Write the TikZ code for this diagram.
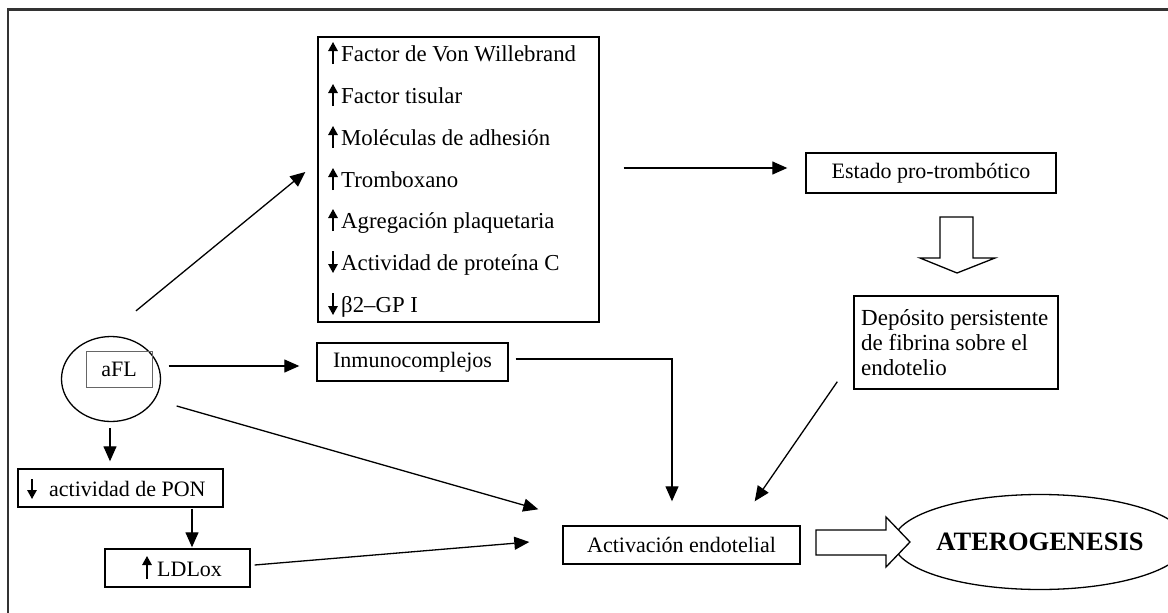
\documentclass[tikz,border=0pt]{standalone}
\usepackage{fontspec}
\setmainfont{Liberation Serif}
\usetikzlibrary{arrows.meta,calc,shapes.geometric}
\begin{document}
\begin{tikzpicture}[x=1pt,y=-1pt,
  every node/.style={font=\fontsize{22}{25}\selectfont},
  box/.style={draw, line width=1.4pt, inner sep=0pt, rectangle},
  arr/.style={line width=1.3pt, -{Triangle[length=15pt,width=13pt]}},
  sarr/.style={line width=1.4pt, -{Triangle[length=9pt,width=9.5pt]}},
  hollow/.style={draw, line width=1.3pt, fill=white, line join=miter},
  rowtext/.style={anchor=base west, inner sep=0pt, font=\fontsize{22.8}{25}\selectfont}]
\useasboundingbox (0,0) rectangle (1168,613);
\draw[line width=2.2pt, black!80] (8,613) -- (8,9.5) -- (1168,9.5);

% big box with rows
\node[box, minimum width=281pt, minimum height=285pt] (big) at (458.5,179.5) {};
\node[rowtext] (r1) at (341,61) {Factor de Von Willebrand};
\node[rowtext] (r2) at (341,103) {Factor tisular};
\node[rowtext] (r3) at (341,145) {Moléculas de adhesión};
\node[rowtext] (r4) at (341,187) {Tromboxano};
\node[rowtext] (r5) at (341,228) {Agregación plaquetaria};
\node[rowtext] (r6) at (341,270) {Actividad de proteína C};
\node[rowtext] (r7) at (341,312) {β2–GP I};
\draw[sarr] (333,64) -- (333,42);
\draw[sarr] (333,106) -- (333,84);
\draw[sarr] (333,148) -- (333,126);
\draw[sarr] (333,190) -- (333,168);
\draw[sarr] (333,231) -- (333,209);
\draw[sarr] (333,251) -- (333,273);
\draw[sarr] (333,293) -- (333,315);

% other nodes
\node[box, minimum width=250pt, minimum height=40pt] (estado) at (931,173) {Estado pro-trombótico};
\node[box, minimum width=204pt, minimum height=93pt] (dep) at (956,342.5) {};
\node[anchor=west, inner sep=0pt, align=left, font=\fontsize{23}{25}\selectfont] (deptext) at (861,343) {Depósito persistente\\de fibrina sobre el\\endotelio};
\node[draw, ellipse, line width=1.3pt, minimum width=99pt, minimum height=85pt, inner sep=0pt] (circ) at (111,379) {};
\node[draw=black!60, line width=1pt, minimum width=66pt, minimum height=36pt, inner sep=0pt] (afl) at (119,369) {aFL};
\node[box, minimum width=191pt, minimum height=38pt] (inmuno) at (412.5,362) {Inmunocomplejos};
\node[box, minimum width=237pt, minimum height=38pt] (activ) at (681.5,545) {Activación endotelial};
\node[box, minimum width=205pt, minimum height=38pt] (pon) at (120.5,488) {};
\node[rowtext, font=\fontsize{22}{25}\selectfont] (pontext) at (49,496) {actividad de PON};
\draw[sarr] (32,479) -- (32,499);
\node[box, minimum width=145pt, minimum height=38pt] (ldl) at (177.5,568) {};
\node[rowtext, font=\fontsize{22}{25}\selectfont] (ldltext) at (157,576) {LDLox};
\draw[sarr] (147,579) -- (147,556);
\node[draw, ellipse, line width=1.3pt, minimum width=253pt, minimum height=95pt, inner sep=0pt, font=\bfseries\fontsize{26.5}{30}\selectfont] (ater) at (1040,542) {ATEROGENESIS};

% connectors
\draw[arr] ($(circ.north)+(25,-25)$) -- ($(big.west)+(-12,-7.5)$);
\draw[arr] ($(circ.east)+(7.5,-13)$) -- ($(inmuno.west)+(-17,4)$);
\draw[arr] ($(circ.south)+(-1,6)$) -- ($(pon.north)+(-10.5,-7)$);
\draw[arr] ($(circ.east)+(15.5,27)$) -- ($(activ.north west)+(-24,-16)$);
\draw[arr] ($(pon.south)+(71.5,1)$) -- ($(ldl.north)+(14.5,-1)$);
\draw[arr] ($(ldl.east)+(4,-3)$) -- ($(activ.west)+(-33,-3)$);
\draw[arr] ($(inmuno.east)+(7,-3)$) -| ($(activ.north)+(-9.5,-24)$);
\draw[arr] ($(big.east)+(24,-11.5)$) -- ($(estado.west)+(-18,-5)$);
\draw[arr] ($(dep.south west)+(-16,-8)$) -- ($(activ.north east)+(-46,-24)$);

% hollow arrows
\draw[hollow] (940,217) -- (973,217) -- (973,258) -- (995,258) -- (957,273) -- (920,258) -- (940,258) -- cycle;
\draw[hollow] (816,530) -- (886,530) -- (886,517) -- (910,542) -- (886,567) -- (886,555) -- (816,555) -- cycle;
\end{tikzpicture}
\end{document}
